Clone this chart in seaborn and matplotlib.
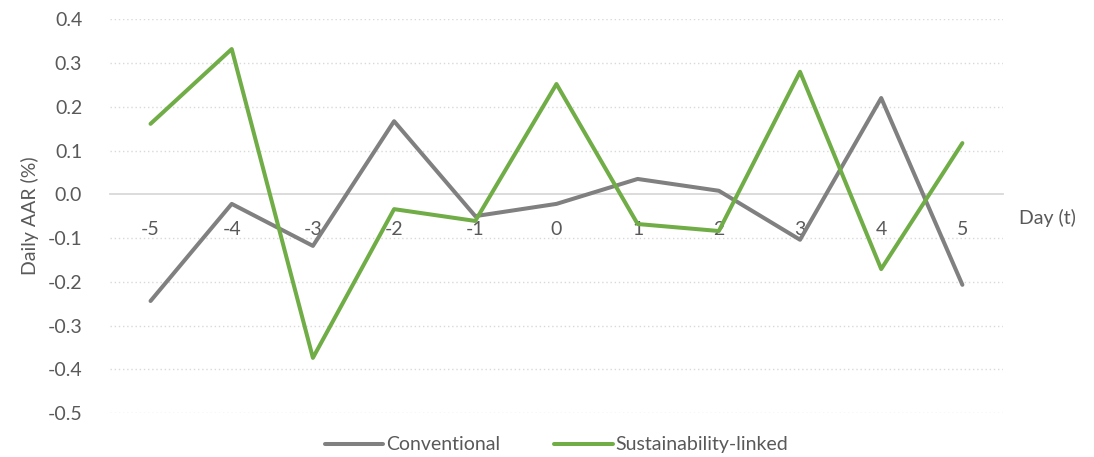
import matplotlib
matplotlib.use("Agg")
import matplotlib.pyplot as plt
import seaborn as sns
import pandas as pd

days = [-5, -4, -3, -2, -1, 0, 1, 2, 3, 4, 5]
conventional = [-0.244, -0.022, -0.118, 0.167, -0.050, -0.022, 0.035, 0.008, -0.104, 0.220, -0.207]
sustainability = [0.161, 0.332, -0.374, -0.034, -0.061, 0.252, -0.068, -0.084, 0.280, -0.171, 0.117]
series_names = ["Conventional", "Sustainability-linked"]
y_ticks = [-0.5, -0.4, -0.3, -0.2, -0.1, 0.0, 0.1, 0.2, 0.3, 0.4]

df = pd.DataFrame({
    "Day": days * 2,
    "AAR": conventional + sustainability,
    "Series": [series_names[0]] * len(days) + [series_names[1]] * len(days),
})

sns.set_theme(style="white")
plt.rcParams["font.family"] = ["Lato", "DejaVu Sans"]
text_color = "#595959"
fs = 14

fig = plt.figure(figsize=(10.94, 4.57), dpi=100)
ax = fig.add_axes([0.1005, 0.0963, 0.8163, 0.8615])

sns.lineplot(data=df, x="Day", y="AAR", hue="Series",
             palette={series_names[0]: "#808080", series_names[1]: "#70AD47"},
             linewidth=2.9, ax=ax, legend=True)

for s in ["top", "right", "left"]:
    ax.spines[s].set_visible(False)
ax.spines["bottom"].set_position(("data", 0))
ax.spines["bottom"].set_color("#D9D9D9")
ax.spines["bottom"].set_linewidth(1.3)
ax.spines["bottom"].set_zorder(0)

ax.set_xlim(-5.5, 5.5)
ax.set_ylim(-0.5, 0.4)
ax.set_yticks(y_ticks)
ax.set_yticklabels([f"{v:.1f}" for v in y_ticks])
ax.set_xticks(days)
ax.set_xticklabels([str(d) for d in days])
ax.tick_params(axis="x", length=0, pad=19, labelsize=fs, labelcolor=text_color)
ax.tick_params(axis="y", length=0, pad=20, labelsize=fs, labelcolor=text_color)

for v in y_ticks:
    if v != 0.0:
        ax.axhline(v, color="#D9D9D9", linestyle=(0, (1, 2)), linewidth=1.0, zorder=0)

ax.set_xlabel("")
ax.set_ylabel("Daily AAR (%)", color=text_color, fontsize=fs, labelpad=6)
fig.text(0.9315, 0.523, "Day (t)", color=text_color, fontsize=fs, va="center", ha="left")

handles, labels = ax.get_legend_handles_labels()
ax.legend(handles, labels, loc="upper center", bbox_to_anchor=(0.5, -0.015),
          ncol=2, frameon=False, fontsize=fs, handlelength=3.0,
          handletextpad=0.15, columnspacing=2.8, labelcolor=text_color)

fig.savefig("out.png", dpi=100)
